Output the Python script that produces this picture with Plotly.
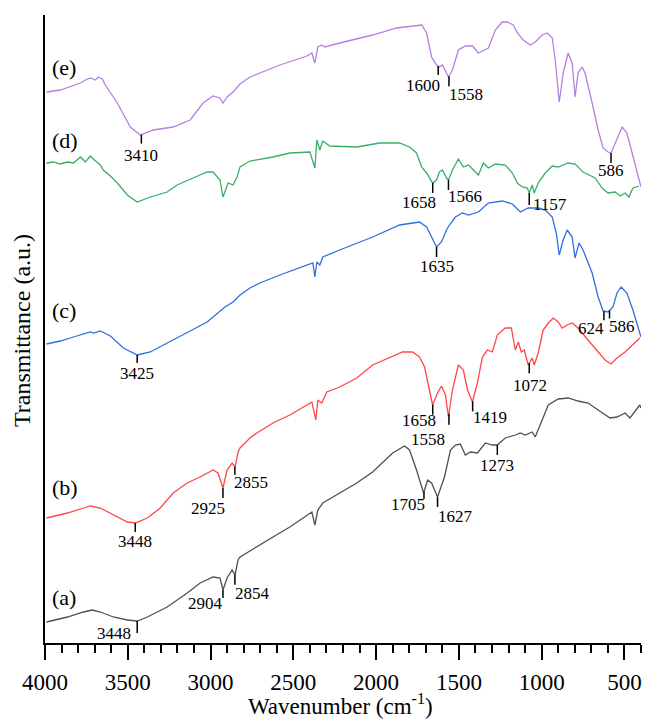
import numpy as np
import plotly.graph_objects as go

# ---------------- data (wavenumber in cm-1, transmittance in a.u., offset per sample) -------------
wn_a = [3991, 3864, 3768, 3714, 3666, 3587, 3503, 3443, 3382, 3262, 3141, 3063, 2985, 2943, 2925, 2900,
        2870, 2852, 2834, 2822, 2762, 2720, 2623, 2521, 2418, 2388, 2370, 2352, 2322, 2220, 2117, 2021,
        1900, 1828, 1798, 1756, 1725, 1713, 1689, 1665, 1629, 1587, 1551, 1521, 1491, 1461, 1430, 1388,
        1340, 1298, 1268, 1220, 1159, 1129, 1099, 1057, 1039, 997, 960, 900, 840, 780, 720, 659, 587,
        545, 496, 467, 437, 407, 400]
t_a = [21, 26, 31, 33, 31, 26, 23, 22, 26, 36, 50, 60, 66, 65, 53, 65,
       73, 68, 83, 86, 92, 96, 106, 116, 128, 131, 118, 133, 140, 150, 160, 171,
       190, 197, 193, 173, 158, 150, 163, 160, 146, 166, 193, 198, 199, 188, 191, 190,
       200, 198, 198, 205, 208, 210, 208, 211, 206, 223, 238, 244, 245, 242, 240, 233, 225,
       226, 230, 225, 231, 238, 235]

wn_b = [3991, 3864, 3768, 3726, 3666, 3587, 3503, 3455, 3382, 3304, 3226, 3141, 3063, 2985, 2955, 2925,
        2900, 2870, 2852, 2834, 2822, 2762, 2720, 2623, 2521, 2418, 2388, 2364, 2352, 2328, 2298, 2220,
        2117, 2021, 1918, 1840, 1780, 1738, 1707, 1677, 1659, 1629, 1605, 1581, 1563, 1539, 1503, 1473,
        1448, 1418, 1388, 1358, 1328, 1298, 1268, 1220, 1183, 1159, 1141, 1123, 1105, 1081, 1057, 1045,
        1021, 991, 960, 930, 900, 876, 846, 816, 780, 720, 659, 617, 581, 545, 496, 437, 407]
t_b = [125, 130, 135, 137, 135, 128, 121, 120, 125, 135, 150, 160, 166, 173, 170, 155,
       173, 180, 176, 191, 195, 205, 210, 220, 228, 238, 241, 223, 243, 240, 251, 256,
       265, 278, 285, 291, 291, 286, 276, 253, 238, 250, 257, 248, 226, 253, 278, 273,
       253, 241, 260, 286, 293, 291, 308, 315, 315, 293, 301, 291, 293, 278, 285, 278,
       290, 313, 320, 325, 321, 315, 318, 320, 315, 303, 291, 283, 279, 285, 291, 300, 305]

wn_c = [3991, 3907, 3828, 3786, 3726, 3708, 3666, 3605, 3527, 3443, 3364, 3262, 3166, 3123, 3021, 2931,
        2913, 2864, 2822, 2762, 2702, 2581, 2418, 2382, 2370, 2358, 2340, 2322, 2220, 2021, 1858, 1738,
        1695, 1665, 1635, 1605, 1575, 1557, 1521, 1479, 1442, 1382, 1322, 1238, 1177, 1129, 1081, 1021,
        978, 936, 912, 894, 870, 846, 816, 798, 774, 750, 695, 659, 629, 599, 569, 545, 520, 485, 449,
        413, 400]
t_c = [299, 302, 306, 308, 311, 310, 312, 307, 295, 288, 291, 300, 308, 312, 321, 333,
       336, 341, 348, 355, 360, 368, 378, 380, 366, 381, 378, 386, 393, 406, 418, 421,
       416, 406, 396, 401, 413, 418, 426, 430, 428, 431, 440, 442, 439, 431, 435, 435,
       433, 426, 410, 388, 403, 413, 406, 385, 400, 393, 370, 346, 332, 331, 336, 350, 356, 350, 333,
       313, 306]

wn_d = [3991, 3949, 3907, 3864, 3828, 3804, 3786, 3756, 3726, 3708, 3684, 3666, 3648, 3605, 3563, 3503,
        3443, 3364, 3262, 3202, 3105, 3021, 2985, 2943, 2925, 2894, 2864, 2840, 2822, 2762, 2623, 2521,
        2400, 2382, 2370, 2358, 2340, 2322, 2280, 2117, 1979, 1858, 1798, 1756, 1725, 1695, 1659, 1635,
        1617, 1599, 1575, 1563, 1539, 1503, 1473, 1442, 1382, 1352, 1322, 1280, 1220, 1177, 1147, 1117,
        1087, 1075, 1057, 1045, 1021, 978, 936, 900, 840, 798, 750, 677, 635, 599, 557, 526, 496, 473,
        449, 413]
t_d = [480, 481, 479, 481, 480, 483, 486, 481, 487, 484, 480, 478, 473, 467, 460, 448,
       441, 446, 451, 458, 465, 471, 471, 463, 446, 460, 458, 466, 476, 482, 486, 490,
       491, 480, 475, 503, 493, 502, 497, 496, 500, 500, 496, 490, 476, 470, 460, 463,
       471, 473, 465, 463, 473, 484, 476, 478, 468, 480, 475, 479, 478, 470, 460, 456,
       455, 450, 458, 450, 460, 470, 477, 476, 480, 479, 471, 465, 455, 450, 451, 447, 450, 446,
       455, 457]

wn_e = [3991, 3907, 3786, 3756, 3726, 3696, 3678, 3654, 3636, 3563, 3485, 3425, 3346, 3226, 3123, 3045,
        2985, 2943, 2925, 2900, 2864, 2822, 2762, 2702, 2581, 2418, 2388, 2370, 2352, 2328, 2310, 2220,
        2021, 1876, 1780, 1725, 1695, 1665, 1635, 1617, 1599, 1563, 1539, 1503, 1461, 1418, 1382, 1322,
        1280, 1238, 1208, 1171, 1147, 1111, 1069, 1039, 997, 966, 936, 918, 894, 870, 840, 816, 798,
        780, 756, 738, 695, 659, 629, 599, 581, 545, 514, 485, 455, 425, 400]
t_e = [551, 553, 560, 563, 565, 563, 566, 564, 558, 540, 516, 508, 513, 516, 523, 540,
       547, 545, 540, 546, 551, 559, 566, 570, 578, 587, 590, 580, 596, 598, 596, 600,
       608, 615, 617, 618, 610, 586, 578, 576, 578, 566, 573, 593, 597, 597, 590, 595,
       613, 621, 621, 618, 610, 603, 598, 601, 608, 610, 605, 583, 541, 570, 590, 580, 546,
       570, 576, 570, 540, 513, 495, 491, 490, 503, 516, 510, 490, 473, 456]

sample_names = ["(a)", "(b)", "(c)", "(d)", "(e)"]
sample_label_level = [46, 156, 333, 503, 576]

# peak annotations: sample, label text, marker wavenumber
peak_sample = ["e", "e", "e", "e",
               "d", "d", "d",
               "c", "c", "c", "c",
               "b", "b", "b", "b", "b", "b", "b",
               "a", "a", "a", "a", "a", "a"]
peak_text = ["3410", "1600", "1558", "586",
             "1658", "1566", "1157",
             "3425", "1635", "624", "586",
             "3448", "2925", "2855", "1658", "1558", "1419", "1072",
             "3448", "2904", "2854", "1705", "1627", "1273"]
peak_wn = [3418, 1625, 1560, 581,
           1658, 1563, 1075,
           3443, 1635, 624, 590,
           3455, 2925, 2853, 1658, 1560, 1417, 1075,
           3443, 2925, 2853, 1711, 1629, 1268]

x_ticks_major = 500
x_ticks_minor = 100

# ---------------- style ----------------
colors = {"a": "#505050", "b": "#FF4747", "c": "#2F6FDF", "d": "#3AAE68", "e": "#B77FE0"}
FONT = "Liberation Serif"
# label placement: (xanchor, xshift px, gap below marker end px), marker length px
label_style = [("center", 0, 12), ("right", 4, 10), ("left", -2, 8), ("center", 0, 7),
               ("right", 5, 10), ("left", -2, 6), ("left", 2, -1),
               ("center", 0, 10), ("center", 0, 9), ("right", 2, 8), ("left", -3, 8),
               ("center", 0, 9), ("right", 4, 10), ("left", -3, 8), ("right", 5, 6), ("right", -2, 15),
               ("left", -2, 6), ("center", 1, 12),
               ("right", -4, 0), ("right", 2, 5), ("left", -2, 9), ("right", 3, 6), ("left", -2, 9),
               ("center", 0, 10)]
marker_len = [9, 9, 10, 10,
              10, 10, 12,
              8, 10, 9, 8,
              9, 10, 8, 10, 11, 10, 10,
              12, 8, 10, 7, 10, 10]

series = {"a": (wn_a, t_a), "b": (wn_b, t_b), "c": (wn_c, t_c), "d": (wn_d, t_d), "e": (wn_e, t_e)}

fig = go.Figure()
for key in ["a", "b", "c", "d", "e"]:
    wn, t = series[key]
    fig.add_trace(go.Scatter(x=wn, y=t, mode="lines",
                             line=dict(color=colors[key], width=1.3),
                             showlegend=False, hoverinfo="skip"))

shapes = []
annotations = []
for i, (s, txt, w) in enumerate(zip(peak_sample, peak_text, peak_wn)):
    wn, t = series[s]
    yv = float(np.interp(w, wn[::-1], t[::-1]))
    y_end = yv - marker_len[i]
    shapes.append(dict(type="line", xref="x", yref="y", x0=w, x1=w, y0=yv, y1=y_end,
                       line=dict(color="black", width=1.5)))
    xa, dx, gap = label_style[i]
    annotations.append(dict(x=w, y=y_end - gap, xref="x", yref="y", text=txt, showarrow=False,
                            xanchor=xa, yanchor="middle", xshift=dx,
                            font=dict(family=FONT, size=17, color="black")))

for name, lvl in zip(sample_names, sample_label_level):
    annotations.append(dict(x=5 / 596, y=lvl, xref="paper", yref="y", text=name, showarrow=False,
                            xanchor="left", yanchor="middle",
                            font=dict(family=FONT, size=22, color="black")))

annotations.append(dict(x=(340 - 45) / 596, y=-61 / 628, xref="paper", yref="paper",
                        text="Wavenumber (cm<sup>-1</sup>)", showarrow=False,
                        xanchor="center", yanchor="middle",
                        font=dict(family=FONT, size=23, color="black")))
annotations.append(dict(x=-23 / 596, y=(643 - 331) / 628, xref="paper", yref="paper",
                        text="Transmittance (a.u.)", showarrow=False, textangle=-90,
                        xanchor="center", yanchor="middle",
                        font=dict(family=FONT, size=24, color="black")))

fig.update_layout(
    width=646, height=719,
    margin=dict(l=45, r=5, t=15, b=76),
    paper_bgcolor="white", plot_bgcolor="white",
    shapes=shapes, annotations=annotations,
    xaxis=dict(range=[4000, 400], showline=True, linecolor="black", linewidth=2,
               ticks="outside", ticklen=15, tickwidth=2, tickcolor="black",
               tick0=0, dtick=x_ticks_major, ticklabelstandoff=2,
               tickfont=dict(family=FONT, size=23, color="black"),
               minor=dict(tick0=0, dtick=x_ticks_minor, ticks="outside", ticklen=8,
                          tickwidth=2, tickcolor="black", showgrid=False),
               showgrid=False, zeroline=False),
    yaxis=dict(range=[0, 628], showline=True, linecolor="black", linewidth=2,
               showticklabels=False, ticks="", showgrid=False, zeroline=False),
)

fig.write_html("out.html", config={"displayModeBar": False},
               post_script="document.body.style.margin='0px';document.body.style.overflow='hidden';")
